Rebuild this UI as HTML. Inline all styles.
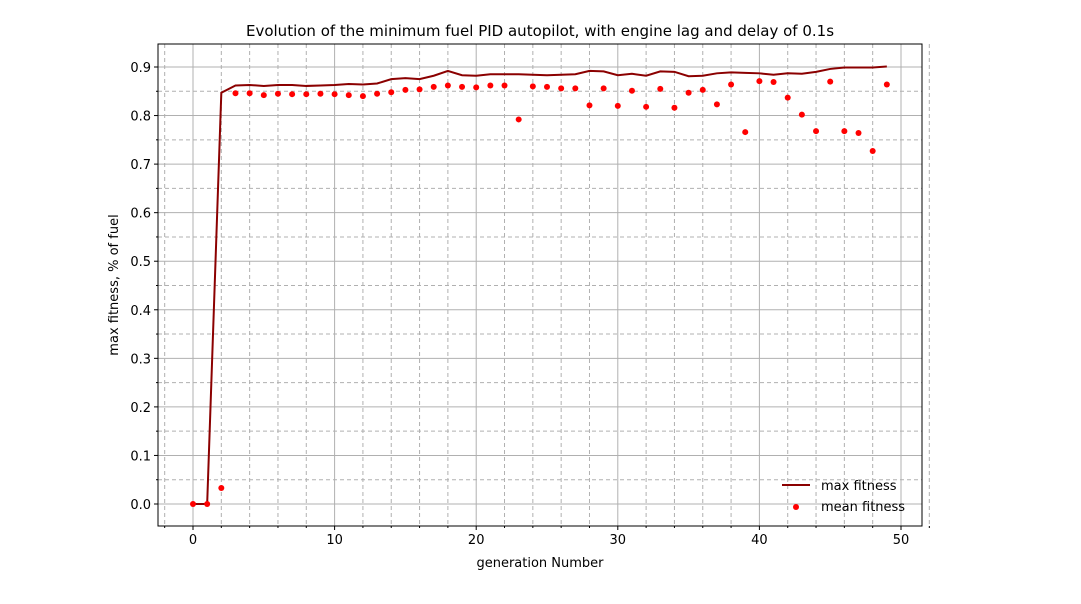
<!DOCTYPE html>
<html><head><meta charset="utf-8"><style>
body{margin:0;background:#fff;font-family:"Liberation Sans","DejaVu Sans",sans-serif}
svg text{font-family:"DejaVu Sans","Liberation Sans",sans-serif}
</style></head><body>
<svg id="chart" width="1081" height="599" xmlns="http://www.w3.org/2000/svg">
<rect width="1081" height="599" fill="#fff"/>
<text x="540" y="36" font-size="15" text-anchor="middle">Evolution of the minimum fuel PID autopilot, with engine lag and delay of 0.1s</text>
<g id="grid"></g><g id="marks"></g><g id="axes"></g>
<text x="540" y="567" font-size="13" text-anchor="middle">generation Number</text>
<text x="118" y="285" font-size="13" text-anchor="middle" transform="rotate(-90 118 285)">max fitness, % of fuel</text>
<g>
<line x1="782" y1="485" x2="810" y2="485" stroke="#8b0000" stroke-width="2"/>
<text x="821" y="490" font-size="13">max fitness</text>
<circle cx="796" cy="507" r="3" fill="#f00"/>
<text x="821" y="511" font-size="13">mean fitness</text>
</g>
</svg>
<script>
const generations=[...Array(50).keys()];
const maxFitness=[0,0,0.847,0.862,0.863,0.861,0.863,0.863,0.861,0.862,0.863,0.865,0.864,0.866,0.875,0.877,0.875,0.882,0.892,0.883,0.882,0.885,0.885,0.885,0.884,0.883,0.884,0.885,0.892,0.891,0.883,0.886,0.882,0.891,0.890,0.881,0.882,0.887,0.889,0.888,0.887,0.884,0.887,0.886,0.890,0.896,0.899,0.899,0.899,0.901];
const meanFitness=[0,0,0.033,0.846,0.846,0.842,0.845,0.844,0.844,0.845,0.844,0.842,0.840,0.845,0.848,0.853,0.854,0.859,0.862,0.859,0.858,0.862,0.862,0.792,0.860,0.859,0.856,0.856,0.821,0.856,0.820,0.851,0.818,0.855,0.816,0.847,0.853,0.823,0.864,0.766,0.871,0.869,0.837,0.802,0.768,0.870,0.768,0.764,0.727,0.864];
const xTicks=[0,10,20,30,40,50];
const yTicks=[0,0.1,0.2,0.3,0.4,0.5,0.6,0.7,0.8,0.9];
const L=158,R=922,T=44,B=526;
const X=v=>193+v*(901-193)/50;
const Y=v=>504-v*(504-67)/0.9;
const NS="http://www.w3.org/2000/svg";
function mk(p,t,a){const e=document.createElementNS(NS,t);for(const k in a)e.setAttribute(k,a[k]);document.getElementById(p).appendChild(e);return e;}
for(let v=-2;v<=52;v+=2){if(v%10===0)continue;const g=mk('grid','line',{x1:X(v),x2:X(v),y1:T,y2:B,stroke:'#b0b0b0','stroke-dasharray':'4,3'});


mk('axes','line',{x1:X(v),x2:X(v),y1:B,y2:B+2,stroke:'#000'});}
for(let i=-1;i<=19;i+=2){const v=i*0.05;if(Y(v)>B||Y(v)<T)continue;const g=mk('grid','line',{x1:L,x2:R,y1:Y(v),y2:Y(v),stroke:'#b0b0b0','stroke-dasharray':'4,3'});


mk('axes','line',{x1:L-2,x2:L,y1:Y(v),y2:Y(v),stroke:'#000'});}
xTicks.forEach(v=>{const g=mk('grid','line',{x1:X(v),x2:X(v),y1:T,y2:B,stroke:'#b0b0b0'});


mk('axes','line',{x1:X(v),x2:X(v),y1:B,y2:B+4,stroke:'#000'});
const t=mk('axes','text',{x:X(v),y:B+18,'font-size':13,'text-anchor':'middle'});t.textContent=v;

});
yTicks.forEach(v=>{const g=mk('grid','line',{x1:L,x2:R,y1:Y(v),y2:Y(v),stroke:'#b0b0b0'});


mk('axes','line',{x1:L-4,x2:L,y1:Y(v),y2:Y(v),stroke:'#000'});
const t=mk('axes','text',{x:L-7,y:Y(v)+5,'font-size':13,'text-anchor':'end'});t.textContent=v.toFixed(1);

});
const fr=mk('axes','rect',{x:L,y:T,width:R-L,height:B-T,fill:'none',stroke:'#000'});


const pl=mk('marks','polyline',{points:generations.map((g,i)=>X(g)+','+Y(maxFitness[i])).join(' '),fill:'none',stroke:'#8b0000','stroke-width':2});


generations.forEach((g,i)=>{const c=mk('marks','circle',{cx:X(g),cy:Y(meanFitness[i]),r:3,fill:'#f00'});

});
</script>
</body></html>
